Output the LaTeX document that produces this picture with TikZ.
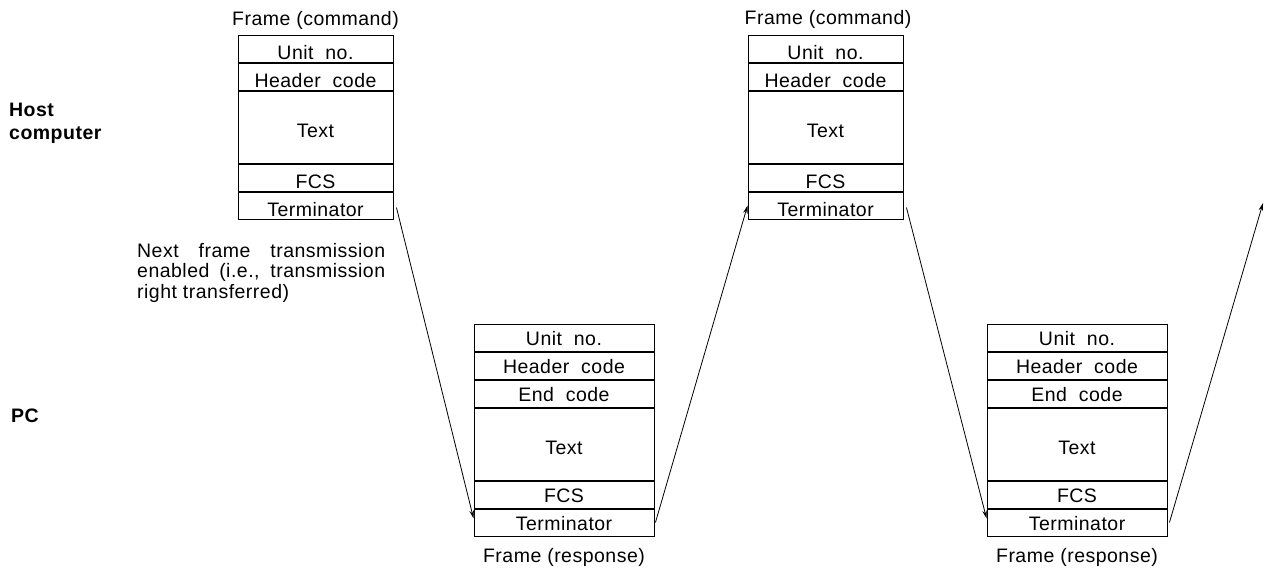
\documentclass[tikz,border=0pt]{standalone}
\usepackage{fontspec}
\setmainfont{Liberation Sans}[LetterSpace=2.5]
\usetikzlibrary{arrows.meta,positioning}

\tikzset{
  cell/.style={draw, line width=0.9pt, inner sep=0pt},
  cmdcell/.style={cell, minimum width=155pt, text height=24.5pt, text depth=2.5pt},
  rspcell/.style={cell, minimum width=180pt, text height=21.5pt, text depth=5.5pt},
  bigcell/.style={text height=46pt, text depth=26pt},
  arr/.style={line width=0.8pt, -{Stealth[length=8pt,width=4.5pt]}}
}

\begin{document}
\begin{tikzpicture}[x=1pt, y=-1pt, font=\fontsize{19.5}{20.5}\selectfont]
  \useasboundingbox (0,0) rectangle (1264,569);

  % side labels
  \node[anchor=north west, inner sep=0pt, align=left, font=\fontsize{19.5}{23}\selectfont\bfseries]
    (host) at (9,103) {Host\\computer};
  \node[anchor=base west, inner sep=0pt, font=\fontsize{19.5}{23}\selectfont\bfseries]
    (pc) at (11,422) {PC};

  % first command frame
  \node[cmdcell, anchor=north] (c1unit) at (315.5,35) {Unit\ \ no.};
  \node[cmdcell, below=0pt of c1unit] (c1head) {Header\ \ code};
  \node[cmdcell, bigcell, below=0pt of c1head] (c1text) {Text};
  \node[cmdcell, below=0pt of c1text] (c1fcs) {FCS};
  \node[cmdcell, below=0pt of c1fcs] (c1term) {Terminator};
  \node[anchor=base, inner sep=0pt] (c1lab) at (315.5,26) {Frame (command)};

  \node[anchor=north west, inner sep=0pt, text width=248pt, align=justify]
    (note) at (137,243) {Next frame transmission enabled (i.e., transmission right transferred)};

  % first response frame
  \node[rspcell, anchor=north] (r1unit) at (564,324) {Unit\ \ no.};
  \node[rspcell, below=0pt of r1unit] (r1head) {Header\ \ code};
  \node[rspcell, below=0pt of r1head] (r1end) {End\ \ code};
  \node[rspcell, bigcell, below=0pt of r1end] (r1text) {Text};
  \node[rspcell, below=0pt of r1text] (r1fcs) {FCS};
  \node[rspcell, below=0pt of r1fcs] (r1term) {Terminator};
  \node[anchor=base, inner sep=0pt] (r1lab) at (564,562) {Frame (response)};

  % second command frame
  \node[cmdcell, anchor=north] (c2unit) at (825.5,35) {Unit\ \ no.};
  \node[cmdcell, below=0pt of c2unit] (c2head) {Header\ \ code};
  \node[cmdcell, bigcell, below=0pt of c2head] (c2text) {Text};
  \node[cmdcell, below=0pt of c2text] (c2fcs) {FCS};
  \node[cmdcell, below=0pt of c2fcs] (c2term) {Terminator};
  \node[anchor=base, inner sep=0pt] (c2lab) at (828,25) {Frame (command)};

  % second response frame
  \node[rspcell, anchor=north] (r2unit) at (1077,324) {Unit\ \ no.};
  \node[rspcell, below=0pt of r2unit] (r2head) {Header\ \ code};
  \node[rspcell, below=0pt of r2head] (r2end) {End\ \ code};
  \node[rspcell, bigcell, below=0pt of r2end] (r2text) {Text};
  \node[rspcell, below=0pt of r2text] (r2fcs) {FCS};
  \node[rspcell, below=0pt of r2fcs] (r2term) {Terminator};
  \node[anchor=base, inner sep=0pt] (r2lab) at (1077,562) {Frame (response)};

  \coordinate (next) at (1263,203);

  % transmissions
  \draw[arr] ([shift={(3,2)}]c1term.east) -- ([shift={(0,-4)}]r1term.west);
  \draw[arr] ([shift={(1,0)}]r1term.east) -- (c2term.west);
  \draw[arr] ([shift={(3,2)}]c2term.east) -- ([shift={(0,-4)}]r2term.west);
  \draw[arr] ([shift={(2,0)}]r2term.east) -- (next);
\end{tikzpicture}
\end{document}
